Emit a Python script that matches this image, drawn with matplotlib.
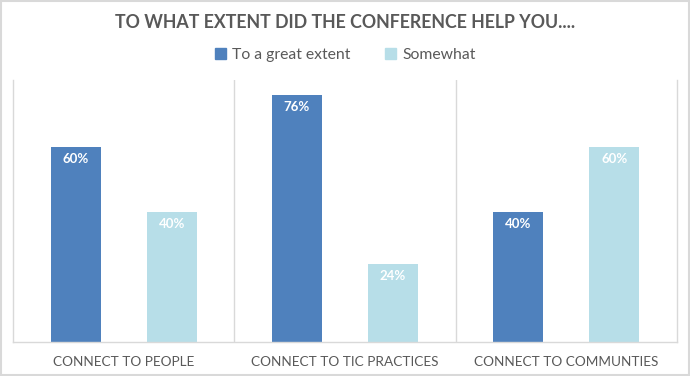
import matplotlib
matplotlib.use("Agg")
import matplotlib.pyplot as plt
import matplotlib.patches as mpatches
import numpy as np

categories = ["CONNECT TO PEOPLE", "CONNECT TO TIC PRACTICES", "CONNECT TO COMMUNTIES"]
great_extent = [60, 76, 40]
somewhat = [40, 24, 60]
series_names = ["To a great extent", "Somewhat"]

DARK = "#4F81BD"
LIGHT = "#B7DEE8"
GRID = "#D9D9D9"
TEXT = "#595959"

plt.rcParams["font.family"] = ["Lato", "DejaVu Sans"]

fig = plt.figure(figsize=(6.9, 3.76), dpi=100)
ax = fig.add_axes([13 / 690, 34 / 376, 664 / 690, 262 / 376])

x = np.arange(len(categories))
w = 0.225
off = 0.217
b1 = ax.bar(x - off, great_extent, w, color=DARK)
b2 = ax.bar(x + off, somewhat, w, color=LIGHT)

for bars, vals in ((b1, great_extent), (b2, somewhat)):
    for bar, v in zip(bars, vals):
        ax.text(bar.get_x() + bar.get_width() / 2, v - 3.6, f"{v}%",
                ha="center", va="center", color="white",
                fontsize=9.5, fontweight="bold")

ax.set_xlim(-0.5, 2.5)
ax.set_ylim(0, 262 / 3.25)
for xv in (0.5, 1.5):
    ax.axvline(xv, color=GRID, lw=1)
ax.spines["top"].set_visible(False)
for s in ("left", "right", "bottom"):
    ax.spines[s].set_color(GRID)
    ax.spines[s].set_linewidth(1)
ax.set_yticks([])
ax.set_xticks(x)
ax.set_xticklabels(categories, fontsize=9.8, color=TEXT)
ax.tick_params(axis="x", length=0, pad=10)

fig.text(0.5, 1 - 22 / 376, "TO WHAT EXTENT DID THE CONFERENCE HELP YOU....",
         ha="center", va="center", fontsize=12.8, fontweight="bold", color=TEXT)

handles = [mpatches.Patch(color=DARK, label=series_names[0]),
           mpatches.Patch(color=LIGHT, label=series_names[1])]
fig.legend(handles=handles, loc="center", bbox_to_anchor=(0.5, 1 - 55 / 376),
           ncol=2, frameon=False, fontsize=11.3, labelcolor=TEXT,
           handlelength=0.7, handleheight=0.7, handletextpad=0.4, columnspacing=2.2)

# outer border
fig.patches.append(mpatches.Rectangle((0.001, 0.002), 0.997, 0.995, transform=fig.transFigure,
                                      fill=False, edgecolor=GRID, lw=1.5))

fig.savefig("out.png", dpi=100)
